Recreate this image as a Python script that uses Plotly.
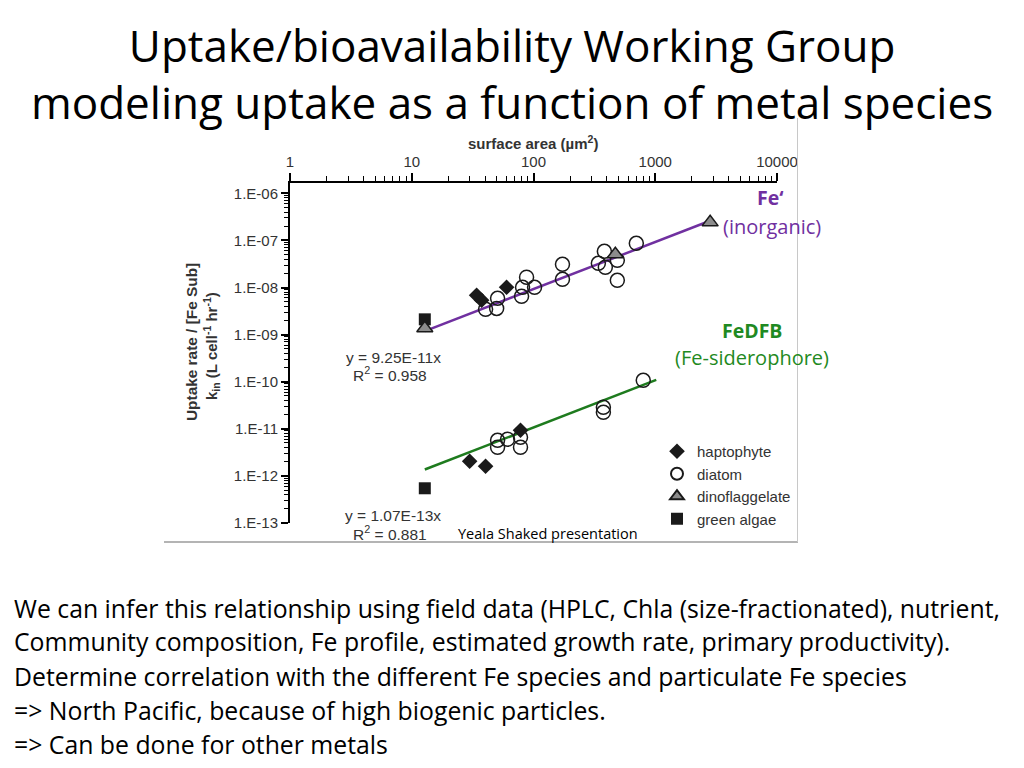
import plotly.graph_objects as go

# ---------------- data ----------------
# Fe' (inorganic) uptake, surface area (um^2) vs k_in
fe_hapto_x = [34.1, 37.5, 60.1]
fe_hapto_y = [6.83e-9, 5.35e-9, 1.01e-8]
fe_diatom_x = [40.4, 50.7, 49.8, 79.8, 87.7, 81.3, 102, 173, 173, 341, 382, 389, 488, 488, 699]
fe_diatom_y = [3.44e-9, 5.9e-9, 3.6e-9, 6.5e-9, 1.65e-8, 1.01e-8, 1.01e-8, 3.11e-8, 1.49e-8, 3.26e-8, 5.87e-8, 2.69e-8, 3.78e-8, 1.42e-8, 8.67e-8]
fe_dino_x = [12.8, 470, 2824]
fe_dino_y = [1.36e-9, 5.07e-8, 2.42e-7]
fe_green_x = [12.8]
fe_green_y = [2.11e-9]

# FeDFB (Fe-siderophore) uptake
dfb_hapto_x = [29.9, 40.4, 78.2]
dfb_hapto_y = [2.04e-12, 1.6e-12, 9.29e-12]
dfb_diatom_x = [50.7, 50.7, 61.2, 78.2, 78.2, 375, 375, 797]
dfb_diatom_y = [5.7e-12, 4.05e-12, 5.98e-12, 6.6e-12, 4.05e-12, 2.86e-11, 2.24e-11, 1.07e-10]
dfb_green_x = [12.8]
dfb_green_y = [5.46e-13]

# linear fits y = a*x
fe_slope = 9.25e-11
fe_fit_x = [12.8, 2824]
dfb_slope = 1.07e-13
dfb_fit_x = [12.8, 1019]

x_tickvals = [1, 10, 100, 1000, 10000]
x_ticktext = ["1", "10", "100", "1000", "10000"]
y_tickvals = [1e-13, 1e-12, 1e-11, 1e-10, 1e-9, 1e-8, 1e-7, 1e-6]
y_ticktext = ["1.E-13", "1.E-12", "1.E-11", "1.E-10", "1.E-09", "1.E-08", "1.E-07", "1.E-06"]

# ---------------- figure ----------------
# page body has an 8px margin: figure is placed at (8, 8) in the window
OFF = 8
W, H = 1016, 752
def px(x):
    return (x - OFF) / W
def py(y):
    return 1 - (y - OFF) / H

PURPLE = "#7030A0"
GREEN_LINE = "#1E7B1E"
GREEN_TXT = "#1F8A22"
TXT = "#333333"
ARIAL = "Liberation Sans, Arial, sans-serif"
CAL = "Open Sans, Lato, sans-serif"

hapto = dict(symbol="diamond", size=12, color="#1a1a1a", line=dict(width=0))
diatom = dict(symbol="circle-open", size=14, color="#1a1a1a", line=dict(width=1.5))
dino = dict(symbol="triangle-up", size=14, color="#8c8c8c", line=dict(width=1.5, color="#1a1a1a"))
green = dict(symbol="square", size=12, color="#1a1a1a", line=dict(width=0))

fig = go.Figure()

# fitted lines
fig.add_trace(go.Scatter(x=fe_fit_x, y=[fe_slope * v for v in fe_fit_x], mode="lines",
                         line=dict(color=PURPLE, width=2.5), showlegend=False, hoverinfo="skip"))
fig.add_trace(go.Scatter(x=dfb_fit_x, y=[dfb_slope * v for v in dfb_fit_x], mode="lines",
                         line=dict(color=GREEN_LINE, width=2.5), showlegend=False, hoverinfo="skip"))

# points
fig.add_trace(go.Scatter(x=fe_hapto_x, y=fe_hapto_y, mode="markers", marker=hapto,
                         name="haptophyte", legendgroup="h", legendrank=1))
fig.add_trace(go.Scatter(x=dfb_hapto_x, y=dfb_hapto_y, mode="markers", marker=hapto,
                         name="haptophyte", legendgroup="h", showlegend=False))
fig.add_trace(go.Scatter(x=fe_diatom_x, y=fe_diatom_y, mode="markers", marker=diatom,
                         name="diatom", legendgroup="d", legendrank=2))
fig.add_trace(go.Scatter(x=dfb_diatom_x, y=dfb_diatom_y, mode="markers", marker=diatom,
                         name="diatom", legendgroup="d", showlegend=False))
fig.add_trace(go.Scatter(x=fe_green_x, y=fe_green_y, mode="markers", marker=green,
                         name="green algae", legendgroup="g", legendrank=4))
fig.add_trace(go.Scatter(x=dfb_green_x, y=dfb_green_y, mode="markers", marker=green,
                         name="green algae", legendgroup="g", showlegend=False))
fig.add_trace(go.Scatter(x=fe_dino_x, y=fe_dino_y, mode="markers", marker=dino,
                         name="dinoflaggelate", legendgroup="n", legendrank=3))

fig.update_layout(
    width=W, height=H,
    margin=dict(l=0, r=0, t=0, b=0, autoexpand=False),
    paper_bgcolor="white", plot_bgcolor="white",
    showlegend=True,
    legend=dict(x=px(657), y=py(435), xanchor="left", yanchor="top",
                font=dict(family=ARIAL, size=15, color=TXT),
                bgcolor="rgba(0,0,0,0)", tracegroupgap=0, itemsizing="constant"),
    xaxis=dict(type="log", side="top", range=[0, 4], domain=[px(290), px(777)],
               anchor="y", showgrid=False, zeroline=False, automargin=False,
               showline=True, linecolor="black", linewidth=2,
               ticks="outside", ticklen=8, tickwidth=1.5, tickcolor="black",
               tickmode="array", tickvals=x_tickvals, ticktext=x_ticktext,
               tickfont=dict(family=ARIAL, size=15, color=TXT),
               minor=dict(ticks="outside", ticklen=5, tickcolor="black", tickwidth=1, dtick="D1", showgrid=False)),
    yaxis=dict(type="log", range=[-13, -5.781], domain=[py(523), py(183)],
               anchor="x", showgrid=False, zeroline=False, automargin=False,
               showline=True, linecolor="black", linewidth=2,
               ticks="outside", ticklen=7, tickwidth=1.5, tickcolor="black",
               tickmode="array", tickvals=y_tickvals, ticktext=y_ticktext,
               tickfont=dict(family=ARIAL, size=15, color=TXT),
               minor=dict(ticks="outside", ticklen=4, tickcolor="black", tickwidth=1, dtick="D1", showgrid=False)),
)

ann = []
def add(text, x, y, size, color="black", family=CAL, xanchor="center", angle=0):
    ann.append(dict(text=text, x=px(x), y=py(y), xref="paper", yref="paper",
                    xanchor=xanchor, yanchor="middle", showarrow=False, textangle=angle,
                    font=dict(family=family, size=size, color=color)))

# slide title (two lines)
add("Uptake/bioavailability Working Group<br>modeling uptake as a function of metal species", 512, 73, 44)

# chart labels
add("<b>surface area (µm<sup>2</sup>)</b>", 533, 142, 15, TXT, ARIAL)
add("<b>Uptake rate / [Fe Sub]</b>", 191, 342, 15.4, TXT, ARIAL, angle=-90)
add("<b>k<sub>in</sub> (L cell<sup>-1</sup> hr<sup>-1</sup>)</b>", 211, 346, 15, TXT, ARIAL, angle=-90)

add("<b>Fe‘</b>", 770, 198, 19.5, PURPLE)
add("(inorganic)", 772, 226, 20, PURPLE)
add("<b>FeDFB</b>", 752, 330, 19.5, GREEN_TXT)
add("(Fe-siderophore)", 752, 357, 20, GREEN_TXT)

add("y = 9.25E-11x", 393, 357, 15.5, TXT, ARIAL)
add("R<sup>2</sup> = 0.958", 390, 374, 15.5, TXT, ARIAL)
add("y = 1.07E-13x", 393, 516, 15.5, TXT, ARIAL)
add("R<sup>2</sup> = 0.881", 390, 533, 15.5, TXT, ARIAL)
add("Yeala Shaked presentation", 548, 533, 14.5, "black")

# body text
body = [
    "We can infer this relationship using field data (HPLC, Chla (size-fractionated), nutrient,",
    "Community composition, Fe profile, estimated growth rate, primary productivity).",
    "Determine correlation with the different Fe species and particulate Fe species",
    "=> North Pacific, because of high biogenic particles.",
    "=> Can be done for other metals",
]
body_y = [608, 641, 676, 710, 744]
for t, yy in zip(body, body_y):
    add(t, 12, yy, 24.8, "black", CAL, xanchor="left")

fig.update_layout(annotations=ann)

# image frame edges (grey)
fig.add_shape(type="line", xref="paper", yref="paper", x0=px(164), x1=px(798), y0=py(542), y1=py(542),
              line=dict(color="#b4b4b4", width=2))
fig.add_shape(type="line", xref="paper", yref="paper", x0=px(797.5), x1=px(797.5), y0=py(118), y1=py(542),
              line=dict(color="#c8c8c8", width=1))

fig.write_html("out.html")
